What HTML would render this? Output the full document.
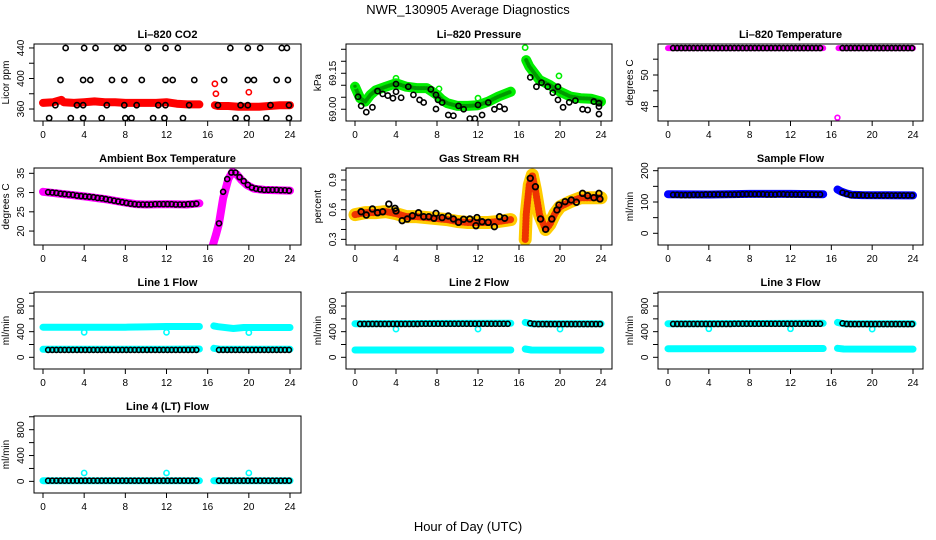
<!DOCTYPE html>
<html><head><meta charset="utf-8">
<style>
html,body{margin:0;padding:0;background:#fff;}
svg{display:block;font-family:"Liberation Sans",Arial,sans-serif;}
</style></head>
<body>
<svg id="chart" width="936" height="540" viewBox="0 0 936 540" xmlns="http://www.w3.org/2000/svg">
<rect width="936" height="540" fill="#fff"/>
<text x="468" y="14" text-anchor="middle" font-size="13">NWR_130905  Average Diagnostics</text>
<text x="468" y="531" text-anchor="middle" font-size="13">Hour of Day (UTC)</text>
</svg>
<script>
// ---------- shared data ----------
const xTicks = [0,4,8,12,16,20,24];
const blackHours = [0.5,0.9,1.3,1.7,2.1,2.5,2.9,3.3,3.7,4.1,4.5,4.9,5.3,5.7,6.1,6.5,6.9,7.3,7.7,8.1,8.5,8.9,9.3,9.7,10.1,10.5,10.9,11.3,11.7,12.1,12.5,12.9,13.3,13.7,14.1,14.5,14.9,17.1,17.5,17.9,18.3,18.7,19.1,19.5,19.9,20.3,20.7,21.1,21.5,21.9,22.3,22.7,23.1,23.5,23.9];

// CO2
const co2BandHours = [0,1,1.8,2,3,4,5,6,7,8,9,10,11,12,13,14,15.2,null,16.7,17,18,19,20,21,22,23,24];
const co2BandVals = [368,369,372,369,368,369,370,369,369,368,368,368,368,369,367,366,366,null,365,364,364,363,363,363,364,365,365];
const co2RedOutHours = [16.7,16.8,20];
const co2RedOutVals = [393,380,382];
const co2BlackHours = [2.2,4.0,5.1,7.2,7.8,10.2,11.9,13.1,18.2,19.9,21.1,23.2,23.7, 1.7,3.9,4.6,6.7,7.9,9.6,11.9,12.6,14.7,17.6,19.9,20.5,22.7,23.8, 1.2,3.3,3.9,6.2,7.9,9.1,11.2,11.9,14.2,17.0,19.2,19.9,22.1,23.9, 0.6,2.7,3.9,5.7,8.0,8.6,10.7,11.8,13.6,18.7,19.8,21.7,23.9];
const co2BlackVals = [440,440,440,440,440,440,440,440,440,440,440,440,440, 398,398,398,398,398,398,398,398,398,398,398,398,398,398, 365,365,365,365,365,365,365,365,365,365,365,365,365,365, 348,348,348,348,348,348,348,348,348,348,348,348,348];

// Pressure
const presBandHours = [0,0.5,1,1.5,2,3,4,5,6,7,8,8.5,9,10,11,12,13,14,15.2,null,16.7,17,17.5,18,19,20,21,22,23,24];
const presBandVals = [69.094,69.046,69.032,69.06,69.078,69.094,69.108,69.094,69.088,69.088,69.06,69.039,69.025,69.014,69.014,69.017,69.032,69.053,69.073,null,69.205,69.178,69.15,69.122,69.101,69.073,69.053,69.046,69.044,69.032];
const presGreenOutHours = [0,4,8.2,12,16.6,19.9];
const presGreenOutVals = [69.097,69.129,69.085,69.046,69.257,69.139];
const presBlackHours = [0.3,0.6,1.1,1.7,2.2,2.7,3.2,3.7,4,4,4.5,5.2,5.7,6.3,6.7,7.4,7.9,7.9,8.1,8.5,9.1,9.6,10.1,10.6,11.2,11.7,12,12.4,13,13.6,14.1,14.6,17.1,17.7,18.2,18.8,19.3,19.8,19.8,20.3,20.9,21.5,22.2,22.7,23.3,23.8,23.8,23.8];
const presBlackVals = [69.052,69.014,68.988,69.008,69.076,69.064,69.057,69.046,69.073,69.105,69.048,69.094,69.060,69.039,69.028,69.083,69.060,69.001,69.039,69.028,68.976,68.973,69.014,69.000,68.961,68.961,69.018,68.976,69.028,69.000,69.011,69.001,69.133,69.094,69.111,69.094,69.069,69.039,69.094,69.008,69.029,69.036,69.000,68.997,69.032,69.011,68.980,69.025];

// Li-820 temperature
const ltBandHours = [0,15.2,null,16.7,24];
const ltBandVals = [51.7,51.7,null,51.7,51.7];
const ltOutHours = [16.6];
const ltOutVals = [47.3];
const ltBlackVals = [51.7,51.7,51.7,51.7,51.7,51.7,51.7,51.7,51.7,51.7,51.7,51.7,51.7,51.7,51.7,51.7,51.7,51.7,51.7,51.7,51.7,51.7,51.7,51.7,51.7,51.7,51.7,51.7,51.7,51.7,51.7,51.7,51.7,51.7,51.7,51.7,51.7,51.7,51.7,51.7,51.7,51.7,51.7,51.7,51.7,51.7,51.7,51.7,51.7,51.7,51.7,51.7,51.7,51.7,51.7];

// Ambient box temperature
const ambBandHours = [0,2,4,6,8,9,10,12,14,15.2,null,16.5,16.8,17.1,17.5,18,18.4,18.8,19.3,19.8,20.5,21.5,24];
const ambBandVals = [30.2,29.6,29,28.3,27.4,27,26.9,27,26.9,27.2,null,16.3,19,22,28.5,33.5,35.4,34.8,33.2,32,31,30.7,30.5];
const ambBlackVals = [30.1,30,29.9,29.7,29.6,29.5,29.4,29.2,29.1,29,28.9,28.8,28.6,28.5,28.3,28.1,27.9,27.7,27.5,27.3,27.1,27,26.9,26.9,26.9,26.9,27,27,27,27,27,26.9,26.9,26.9,27,27,27.1,22,30.2,33.5,35.2,35.2,34,33,32,31.3,31,30.8,30.7,30.7,30.7,30.7,30.6,30.6,30.5];

// Gas stream RH
const rhBandHours = [0,1,2,3,4,5,6,7,8,9,10,11,12,13,14,15.2,null,16.6,16.7,17,17.3,17.6,18,18.6,19,19.5,20,21,22,23,24];
const rhBandVals = [0.55,0.57,0.57,0.58,0.56,0.53,0.53,0.52,0.51,0.50,0.48,0.47,0.47,0.47,0.48,0.50,null,0.30,0.55,0.85,0.95,0.80,0.55,0.40,0.45,0.56,0.63,0.68,0.72,0.72,0.72];
const rhBlackHours = [0.6,1.1,1.7,2.2,2.7,3.3,3.9,4,4.6,5.1,5.6,6.2,6.7,7.2,7.7,7.9,8.5,9.1,9.6,10.1,10.6,11.2,11.8,11.9,12.4,13,13.6,14.1,14.6,17.1,17.6,18.1,18.6,19.2,19.7,19.9,20.5,21.1,21.6,22.2,22.7,23.3,23.8,23.9];
const rhBlackVals = [0.579,0.546,0.607,0.569,0.579,0.657,0.614,0.587,0.489,0.506,0.539,0.569,0.529,0.529,0.513,0.563,0.52,0.536,0.506,0.472,0.503,0.506,0.438,0.52,0.478,0.472,0.428,0.529,0.513,0.917,0.832,0.506,0.401,0.506,0.597,0.647,0.681,0.698,0.675,0.765,0.741,0.721,0.765,0.708];

// Sample flow
const sfBandHours = [0,4,8,12,15.2,null,16.6,17,17.5,18,19,24];
const sfBandVals = [125,124,126,126,125,null,140,133,127,123,122,121];
const sfBlackVals = [123,123,122,122,122,123,123,123,124,124,124,124,124,124,124,124,124,125,125,125,125,125,125,124,124,124,125,125,124,124,124,124,124,124,124,124,124,130,126,122,122,122,122,121,121,121,121,121,121,121,121,121,121,121,121];

// Line 1 flow
const l1UpperHours = [0,4,8,10,12,15.2,null,16.6,17,18.5,19.5,24];
const l1UpperVals = [470,470,470,475,480,480,null,490,478,450,465,465];
const l1LowerHours = [0,12,15.2,null,16.6,17.2,24];
const l1LowerVals = [125,125,130,null,140,125,125];
const l1OutHours = [4,12,20];
const l1OutVals = [390,390,385];
const l1BlackVals = [115,115,115,115,115,115,115,115,115,115,115,115,115,115,115,115,115,115,115,115,115,115,115,115,115,115,115,115,115,115,115,115,115,115,115,115,115,115,115,115,115,115,115,115,115,115,115,115,115,115,115,115,115,115,115];

// Line 2 flow
const l2UpperHours = [0,15.2,null,16.6,17.2,24];
const l2UpperVals = [525,530,null,545,525,525];
const l2LowerHours = [0,15.2,null,16.6,17.2,24];
const l2LowerVals = [114,114,null,130,114,112];
const l2OutHours = [4,12,20];
const l2OutVals = [440,440,440];
const l2BlackVals = [520,520,520,520,520,520,520,520,520,520,520,520,520,520,520,522,522,522,522,522,522,522,522,522,522,522,522,522,522,522,522,522,522,522,522,522,522,530,520,518,518,518,518,518,518,518,518,518,518,518,518,518,518,518,518];

// Line 3 flow
const l3UpperHours = [0,15.2,null,16.6,17.2,24];
const l3UpperVals = [525,530,null,545,525,525];
const l3LowerHours = [0,15.2,null,16.6,17.2,24];
const l3LowerVals = [134,138,null,140,130,128];
const l3OutHours = [4,12,20];
const l3OutVals = [445,445,440];
const l3BlackVals = [520,520,520,520,520,520,520,520,520,520,520,520,520,520,520,522,522,522,522,522,522,522,522,522,522,522,522,522,522,522,522,522,522,522,522,522,522,530,520,518,518,518,518,518,518,518,518,518,518,518,518,518,518,518,518];

// Line 4 flow
const l4BandHours = [0,15.2,null,16.6,24];
const l4BandVals = [10,10,null,10,10];
const l4OutHours = [4,12,20];
const l4OutVals = [130,130,130];
const l4BlackVals = [10,10,10,10,10,10,10,10,10,10,10,10,10,10,10,10,10,10,10,10,10,10,10,10,10,10,10,10,10,10,10,10,10,10,10,10,10,10,10,10,10,10,10,10,10,10,10,10,10,10,10,10,10,10,10];

// ---------- drawing ----------
const NS = "http://www.w3.org/2000/svg";
const svg = document.getElementById('chart');
const COLS = [{x0:34,x1:301,h0:43,h24:290},{x0:346,x1:612,h0:355,h24:601},{x0:658,x1:923,h0:668,h24:913}];
const ROWS = [44,168,292,416];
const BH = 77;

function mk(tag, attrs, parent){
  const e = document.createElementNS(NS, tag);
  for (const k in attrs) e.setAttribute(k, attrs[k]);
  (parent||svg).appendChild(e);
  return e;
}

function panel(name, col, row, title, ylab, ymin, ymax, ticks, labels){
  const c = COLS[col], top = ROWS[row], bot = top + BH;
  const g = mk('g', {});
  
  
  const x = h => c.h0 + (h/24)*(c.h24 - c.h0);
  const y = v => bot - (v - ymin)/(ymax - ymin)*BH;
  const clipId = 'clip-' + name;
  const cp = mk('clipPath', {id: clipId}, g);
  mk('rect', {x:c.x0, y:top, width:c.x1-c.x0, height:BH}, cp);
  const plot = mk('g', {'clip-path':'url(#'+clipId+')'}, g);
  
  
  const box = mk('rect', {x:c.x0, y:top, width:c.x1-c.x0, height:BH, fill:'none', stroke:'#000', 'stroke-width':1}, g);
  
  
  const t = mk('text', {x:(c.x0+c.x1)/2, y:top-6, 'text-anchor':'middle', 'font-size':11, 'font-weight':'bold'}, g);
  
  
  t.textContent = title;
  // x axis
  const xa = mk('g', {}, g);
  
  
  mk('line', {x1:x(0), x2:x(24), y1:bot, y2:bot, stroke:'#000'}, xa);
  xTicks.forEach(h => {
    mk('line', {x1:x(h), x2:x(h), y1:bot, y2:bot+5, stroke:'#000'}, xa);
    const lt = mk('text', {x:x(h), y:bot+17, 'text-anchor':'middle', 'font-size':10}, xa);
    
    
    lt.textContent = String(h);
  });
  // y axis
  const ya = mk('g', {}, g);
  
  
  mk('line', {x1:c.x0, x2:c.x0, y1:y(ticks[0]), y2:y(ticks[ticks.length-1]), stroke:'#000'}, ya);
  ticks.forEach(v => mk('line', {x1:c.x0-5, x2:c.x0, y1:y(v), y2:y(v), stroke:'#000'}, ya));
  labels.forEach(v => {
    const lx = c.x0 - 10, ly = y(v);
    const lt = mk('text', {x:lx, y:ly, 'text-anchor':'middle', 'font-size':10, transform:'rotate(-90 '+lx+' '+ly+')'}, ya);
    
    
    lt.textContent = typeof v === 'number' && labels.fmt ? v.toFixed(labels.fmt) : String(v);
  });
  const yx = c.x0 - 25, yy = (top+bot)/2;
  const yl = mk('text', {x:yx, y:yy, 'text-anchor':'middle', 'font-size':10, transform:'rotate(-90 '+yx+' '+yy+')'}, g);
  
  
  yl.textContent = ylab;
  return {plot, x, y};
}

function band(p, hours, vals, color, width, name, dash){
  let segs = [], cur = [];
  hours.forEach((h,i) => {
    if (h === null || vals[i] === null){ if (cur.length) segs.push(cur); cur = []; }
    else cur.push(p.x(h).toFixed(1) + ',' + p.y(vals[i]).toFixed(1));
  });
  if (cur.length) segs.push(cur);
  segs.forEach(s => {
    const attrs = {points:s.join(' '), fill:'none', stroke:color, 'stroke-width':width, 'stroke-linecap':'round', 'stroke-linejoin':'round'};
    if (dash) attrs['stroke-dasharray'] = dash;
    const pl = mk('polyline', attrs, p.plot);
    
    
  });
}

function pts(p, hours, vals, color, r, sw, name){
  hours.forEach((h,i) => {
    const ci = mk('circle', {cx:p.x(h), cy:p.y(vals[i]), r:r, fill:'none', stroke:color, 'stroke-width':sw}, p.plot);
    
    
  });
}

// Li-820 CO2
const pCO2 = panel('co2', 0, 0, 'Li\u2013820 CO2', 'Licor ppm', 344.3, 445.2, [360,380,400,420,440], [360,400,440]);
band(pCO2, co2BandHours, co2BandVals, '#ff0000', 8, 'co2-band');
pts(pCO2, co2RedOutHours, co2RedOutVals, '#ff0000', 2.6, 1.6, 'co2-red-point');
pts(pCO2, co2BlackHours, co2BlackVals, '#000', 2.6, 1.6, 'co2-black-point');

// Pressure
const pPres = panel('pressure', 1, 0, 'Li\u2013820 Pressure', 'kPa', 68.951, 69.272, [69.00,69.05,69.10,69.15,69.20,69.25], ['69.00','69.15']);
band(pPres, presBandHours, presBandVals, '#00ee00', 10, 'pressure-band');
band(pPres, presBandHours, presBandVals, '#009900', 4, 'pressure-band-texture', '1 2');
pts(pPres, presGreenOutHours, presGreenOutVals, '#00ee00', 2.6, 1.6, 'pressure-green-point');
pts(pPres, presBlackHours, presBlackVals, '#000', 2.6, 1.6, 'pressure-black-point');

// Li-820 Temperature
const pLT = panel('licor-temp', 2, 0, 'Li\u2013820 Temperature', 'degrees C', 47.09, 51.96, [48,49,50,51], [48,50]);
band(pLT, ltBandHours, ltBandVals, '#ff00ff', 6, 'licor-temp-band');
pts(pLT, ltOutHours, ltOutVals, '#ff00ff', 2.4, 1.6, 'licor-temp-outlier');
pts(pLT, blackHours, ltBlackVals, '#000', 2.5, 1.6, 'licor-temp-black-point');

// Ambient
const pAmb = panel('ambient-temp', 0, 1, 'Ambient Box Temperature', 'degrees C', 16.38, 36.38, [20,25,30,35], [20,25,30,35]);
band(pAmb, ambBandHours, ambBandVals, '#ff00ff', 8, 'ambient-band');
pts(pAmb, blackHours, ambBlackVals, '#000', 2.5, 1.6, 'ambient-black-point');

// RH
const pRH = panel('gas-rh', 1, 1, 'Gas Stream RH', 'percent', 0.243, 1.021, [0.3,0.4,0.5,0.6,0.7,0.8,0.9,1.0], ['0.3','0.6','0.9']);
band(pRH, rhBandHours, rhBandVals, '#ffcc00', 13, 'rh-band');
band(pRH, rhBandHours, rhBandVals, '#ee3300', 7, 'rh-band-texture', '1 2');
pts(pRH, rhBlackHours, rhBlackVals, '#000', 2.8, 1.8, 'rh-black-point');

// Sample flow
const pSF = panel('sample-flow', 2, 1, 'Sample Flow', 'ml/min', -37.4, 208.6, [0,50,100,150,200], [0,100,200]);
band(pSF, sfBandHours, sfBandVals, '#0000ff', 8, 'sample-flow-band');
pts(pSF, blackHours, sfBlackVals, '#000', 2.5, 1.6, 'sample-flow-black-point');

// Line flows
const flowTicks = [0,200,400,600,800,1000];
const flowLabels = [0,400,800];
const pL1 = panel('line1-flow', 0, 2, 'Line 1 Flow', 'ml/min', -182.5, 1019, flowTicks, flowLabels);
band(pL1, l1UpperHours, l1UpperVals, '#00ffff', 7, 'line1-upper-band');
band(pL1, l1LowerHours, l1LowerVals, '#00ffff', 7, 'line1-lower-band');
pts(pL1, l1OutHours, l1OutVals, '#00ffff', 2.6, 1.6, 'line1-outlier');
pts(pL1, blackHours, l1BlackVals, '#000', 2.5, 1.6, 'line1-black-point');

const pL2 = panel('line2-flow', 1, 2, 'Line 2 Flow', 'ml/min', -182.5, 1019, flowTicks, flowLabels);
band(pL2, l2UpperHours, l2UpperVals, '#00ffff', 7, 'line2-upper-band');
band(pL2, l2LowerHours, l2LowerVals, '#00ffff', 7, 'line2-lower-band');
pts(pL2, l2OutHours, l2OutVals, '#00ffff', 2.6, 1.6, 'line2-outlier');
pts(pL2, blackHours, l2BlackVals, '#000', 2.5, 1.6, 'line2-black-point');

const pL3 = panel('line3-flow', 2, 2, 'Line 3 Flow', 'ml/min', -182.5, 1019, flowTicks, flowLabels);
band(pL3, l3UpperHours, l3UpperVals, '#00ffff', 7, 'line3-upper-band');
band(pL3, l3LowerHours, l3LowerVals, '#00ffff', 7, 'line3-lower-band');
pts(pL3, l3OutHours, l3OutVals, '#00ffff', 2.6, 1.6, 'line3-outlier');
pts(pL3, blackHours, l3BlackVals, '#000', 2.5, 1.6, 'line3-black-point');

const pL4 = panel('line4-flow', 0, 3, 'Line 4 (LT) Flow', 'ml/min', -180, 1012, flowTicks, flowLabels);
band(pL4, l4BandHours, l4BandVals, '#00ffff', 7, 'line4-band');
pts(pL4, l4OutHours, l4OutVals, '#00ffff', 2.6, 1.6, 'line4-outlier');
pts(pL4, blackHours, l4BlackVals, '#000', 2.5, 1.6, 'line4-black-point');
</script>
</body></html>
